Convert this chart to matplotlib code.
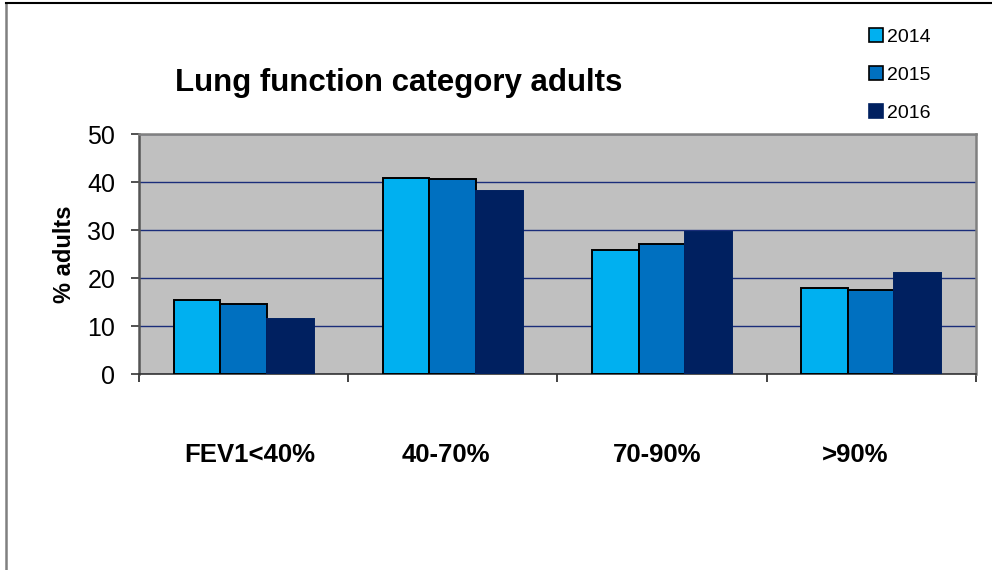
import matplotlib
matplotlib.use("Agg")
import matplotlib.pyplot as plt
from matplotlib.lines import Line2D
from matplotlib.patches import Patch
from matplotlib.transforms import ScaledTranslation
import numpy as np

plt.rcParams['font.family'] = ['Liberation Sans', 'DejaVu Sans']

categories = ["FEV1<40%", "40-70%", "70-90%", ">90%"]
years = ["2014", "2015", "2016"]
values_2014 = [15.4, 40.9, 25.8, 17.9]
values_2015 = [14.7, 40.7, 27.1, 17.5]
values_2016 = [11.5, 38.1, 29.6, 21.2]
series = [values_2014, values_2015, values_2016]
colors = ["#00B0F0", "#0070C0", "#002060"]
edges = ["#000000", "#000000", "#002060"]
y_ticks = [0, 10, 20, 30, 40, 50]

fig = plt.figure(figsize=(9.92, 5.70), dpi=100)
ax = fig.add_axes([0.1401, 0.3430, 0.8435, 0.4219])
ax.set_facecolor("#C0C0C0")

x = np.arange(len(categories))
width = 0.223
for k, (vals, col, ec) in enumerate(zip(series, colors, edges)):
    ax.bar(x + (k - 1) * width, vals, width=width, color=col,
           edgecolor=ec, linewidth=1.4, label=years[k], zorder=3)

ax.set_xlim(-0.5, len(categories) - 0.5)
ax.set_ylim(0, 50)
ax.set_yticks(y_ticks)
ax.yaxis.grid(True, color="#1a2d7a", linewidth=1.0, zorder=1)
ax.set_axisbelow(True)

ax.tick_params(axis="y", direction="out", length=6, width=1.2,
               color="#333333", labelsize=18, pad=11)
ax.set_xticks(x)
ax.set_xticklabels(categories, fontsize=18.5, fontweight="bold")
ax.tick_params(axis="x", which="major", length=0, pad=49)
ax.set_xticks(np.arange(-0.5, len(categories), 1.0), minor=True)
ax.tick_params(axis="x", which="minor", direction="out", length=6,
               width=1.2, color="#222222")

# category labels sit slightly off their group centres
label_shift = [6, -7, -5, -16]
for lbl, dx in zip(ax.get_xticklabels(), label_shift):
    lbl.set_transform(lbl.get_transform() +
                      ScaledTranslation(dx / 100, 0, fig.dpi_scale_trans))

ax.set_ylabel("% adults", fontsize=17, fontweight="bold", labelpad=8)

for side in ["top", "right"]:
    ax.spines[side].set_color("#808080")
    ax.spines[side].set_linewidth(1.8)
ax.spines["left"].set_color("#555555")
ax.spines["left"].set_linewidth(1.8)
ax.spines["bottom"].set_color("#333333")
ax.spines["bottom"].set_linewidth(1.2)

fig.text(0.402, 0.855, "Lung function category adults", fontsize=22.5,
         fontweight="bold", ha="center", va="center")

handles = [Patch(facecolor=c, edgecolor=e, linewidth=1.2) for c, e in zip(colors, edges)]
fig.legend(handles, years, loc="upper left", bbox_to_anchor=(0.868, 0.964),
           frameon=False, fontsize=14, handlelength=0.72, handleheight=0.72,
           handletextpad=0.2, labelspacing=1.03, borderaxespad=0)

# outer chart frame
fig.add_artist(Line2D([0.0065, 0.0065], [0.0, 0.995], color="#808080",
                      linewidth=1.8, transform=fig.transFigure))
fig.add_artist(Line2D([0.0065, 1.0], [0.995, 0.995], color="#000000",
                      linewidth=1.5, transform=fig.transFigure))

fig.savefig("out.png", dpi=100)
